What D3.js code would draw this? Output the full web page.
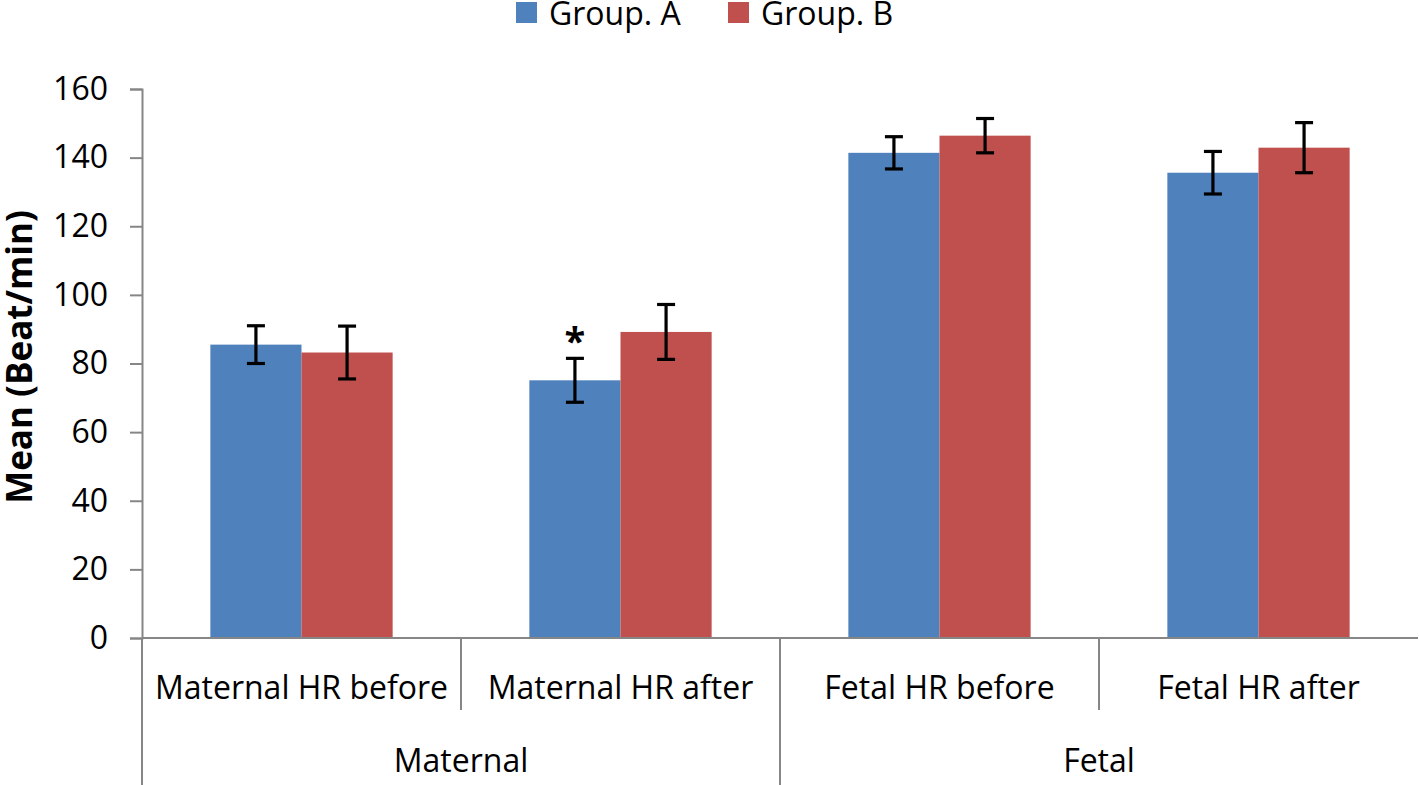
<!DOCTYPE html>
<html>
<head>
<meta charset="utf-8">
<script src="https://cdn.jsdelivr.net/npm/d3@7"></script>
<style>
body{margin:0;background:#fff;}
text{font-family:"Open Sans","Liberation Sans",sans-serif;fill:#000;}
</style>
</head>
<body>
<script>
//chart data
var categories = ["Maternal HR before","Maternal HR after","Fetal HR before","Fetal HR after"];
var groups = ["Maternal","Fetal"];
var groupOf = ["Maternal","Maternal","Fetal","Fetal"];
var series = ["Group. A","Group. B"];
var groupA = [85.5, 75.1, 141.4, 135.6];
var groupB = [83.2, 89.2, 146.4, 142.9];
var errA = [5.5, 6.4, 4.7, 6.2];
var errB = [7.7, 8.0, 5.0, 7.3];
var yTicks = [0,20,40,60,80,100,120,140,160];
var starred = [{cat:"Maternal HR after", s:0}];
var colors = ["#4F81BD","#C0504D"];

(function(){
var width = 1419, height = 785;
var mLeft = 142, mRight = 1418, mTop = 89, mBottom = 638;

var svg = d3.select("body").append("svg")
    .attr("width", width)
    .attr("height", height);

var y = d3.scaleLinear().domain([0,160]).range([mBottom, mTop]);
var x = d3.scaleBand().domain(categories).range([mLeft, mRight]).paddingInner(0).paddingOuter(0);
//excel gap width ~150% -> outer padding of 0.75 bar on each side
var inner = d3.scaleBand().domain(series).range([0, x.bandwidth()]).paddingInner(0).paddingOuter(0.75);

var values = [groupA, groupB];
var errs = [errA, errB];

//y axis
var yAxis = d3.axisLeft(y).tickValues(yTicks).tickSize(12).tickPadding(22);
var gy = svg.append("g").attr("transform","translate(" + mLeft + ",0)").call(yAxis);
gy.select(".domain").attr("stroke","#868686").attr("stroke-width",2);
gy.selectAll(".tick line").attr("stroke","#868686").attr("stroke-width",2);
gy.selectAll(".tick text").style("font-size","32px").attr("fill","#000")
    .style("font-family","\"Open Sans\",sans-serif");

//bars
series.forEach(function(s, si){
    svg.append("g").selectAll("rect")
        .data(categories)
        .enter().append("rect")
        .attr("x", function(d){ return x(d) + inner(s); })
        .attr("y", function(d,i){ return y(values[si][i]); })
        .attr("width", inner.bandwidth())
        .attr("height", function(d,i){ return y(0) - y(values[si][i]); })
        .attr("fill", colors[si]);
});

//error bars
series.forEach(function(s, si){
    var g = svg.append("g").attr("stroke","#000").attr("stroke-width",3.2);
    categories.forEach(function(c, i){
        var cx = x(c) + inner(s) + inner.bandwidth()/2;
        var hi = y(values[si][i] + errs[si][i]), lo = y(values[si][i] - errs[si][i]);
        g.append("line").attr("x1",cx).attr("x2",cx).attr("y1",hi).attr("y2",lo);
        g.append("line").attr("x1",cx-9).attr("x2",cx+9).attr("y1",hi).attr("y2",hi);
        g.append("line").attr("x1",cx-9).attr("x2",cx+9).attr("y1",lo).attr("y2",lo);
    });
});

//significance marks
starred.forEach(function(m){
    var i = categories.indexOf(m.cat);
    var cx = x(m.cat) + inner(series[m.s]) + inner.bandwidth()/2;
    svg.append("text")
        .attr("x", cx)
        .attr("y", y(values[m.s][i] + errs[m.s][i]) - 3)
        .attr("text-anchor","middle")
        .style("font-size","38px")
        .style("font-weight","bold")
        .text("*");
});

//x axis baseline and category dividers
var axisG = svg.append("g").attr("stroke","#868686").attr("stroke-width",2);
axisG.append("line").attr("x1",mLeft).attr("x2",mRight).attr("y1",mBottom).attr("y2",mBottom);
axisG.append("line").attr("x1",mLeft).attr("x2",mLeft).attr("y1",mBottom).attr("y2",height);
categories.forEach(function(c, i){
    if (i == 0) return;
    var full = groupOf[i] != groupOf[i-1];
    axisG.append("line")
        .attr("x1", x(c)).attr("x2", x(c))
        .attr("y1", mBottom).attr("y2", full ? height : mBottom + 72);
});

//category labels
svg.append("g").selectAll("text")
    .data(categories)
    .enter().append("text")
    .attr("x", function(d){ return x(d) + x.bandwidth()/2; })
    .attr("y", 699)
    .attr("text-anchor","middle")
    .style("font-size","32px")
    .text(function(d){ return d; });

//group labels
groups.forEach(function(gname){
    var cats = categories.filter(function(c,i){ return groupOf[i] == gname; });
    var x0 = x(cats[0]), x1 = x(cats[cats.length-1]) + x.bandwidth();
    svg.append("text")
        .attr("x", (x0 + x1)/2)
        .attr("y", 772)
        .attr("text-anchor","middle")
        .style("font-size","32px")
        .text(gname);
});

//y axis title
svg.append("text")
    .attr("transform","translate(32,357) rotate(-90)")
    .attr("text-anchor","middle")
    .style("font-size","35px")
    .style("font-weight","bold")
    .text("Mean (Beat/min)");

//legend
var legend = svg.append("g");
var lx = [516, 728];
series.forEach(function(s, si){
    legend.append("rect")
        .attr("x", lx[si]).attr("y", 2)
        .attr("width", 21).attr("height", 21)
        .attr("fill", colors[si]);
    legend.append("text")
        .attr("x", lx[si] + 33).attr("y", 25)
        .style("font-size","32px")
        .text(s);
});
})();
</script>
</body>
</html>
